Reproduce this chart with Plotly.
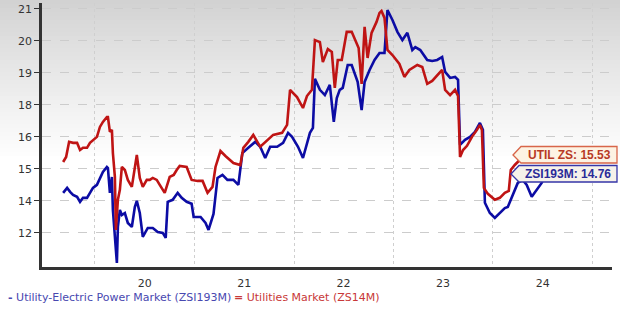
import datetime
import plotly.graph_objects as go

# ---- data (decimal years, index values) ----
UTIL_T = [2019.68, 2019.71, 2019.74, 2019.78, 2019.82, 2019.85, 2019.88, 2019.92, 2019.95, 2019.98,
          2020.02, 2020.05, 2020.08, 2020.12, 2020.13, 2020.15, 2020.17, 2020.18, 2020.20, 2020.21,
          2020.23, 2020.25, 2020.27, 2020.30, 2020.33, 2020.37, 2020.40, 2020.42, 2020.45, 2020.48,
          2020.52, 2020.55, 2020.58, 2020.62, 2020.65, 2020.70, 2020.75, 2020.79, 2020.82, 2020.85,
          2020.92, 2020.97, 2021.03, 2021.08, 2021.13, 2021.18, 2021.21, 2021.26, 2021.31, 2021.36,
          2021.39, 2021.46, 2021.49, 2021.54, 2021.59, 2021.66, 2021.73, 2021.79, 2021.88, 2021.93,
          2021.96, 2022.03, 2022.09, 2022.13, 2022.18, 2022.21, 2022.26, 2022.29, 2022.34, 2022.38,
          2022.41, 2022.44, 2022.48, 2022.53, 2022.58, 2022.62, 2022.65, 2022.68, 2022.71, 2022.74,
          2022.78, 2022.83, 2022.86, 2022.88, 2022.91, 2022.94, 2022.99, 2023.06, 2023.11, 2023.16,
          2023.24, 2023.29, 2023.34, 2023.39, 2023.44, 2023.49, 2023.52, 2023.57, 2023.62, 2023.65,
          2023.67, 2023.70, 2023.74, 2023.79, 2023.84, 2023.87, 2023.89, 2023.91, 2023.95, 2024.02,
          2024.07, 2024.12, 2024.16, 2024.18, 2024.22, 2024.27, 2024.34, 2024.42, 2024.52]
UTIL_V = [14.85, 15.05, 15.66, 15.62, 15.62, 15.33, 15.42, 15.42, 15.62, 15.74,
          15.86, 16.26, 16.46, 16.66, 16.66, 16.06, 16.14, 15.21, 14.25, 12.12,
          13.33, 13.73, 14.65, 14.53, 14.13, 13.85, 14.65, 15.13, 14.21, 13.85,
          14.13, 14.13, 14.21, 14.13, 13.93, 13.61, 14.25, 14.33, 14.53, 14.69,
          14.65, 14.13, 14.09, 14.09, 13.61, 13.85, 14.65, 15.29, 15.09, 14.93,
          14.81, 14.73, 15.42, 15.66, 15.94, 15.46, 15.74, 15.94, 16.02, 16.34,
          17.75, 17.46, 17.02, 17.50, 17.75, 19.75, 19.67, 18.87, 19.39, 19.27,
          17.83, 18.95, 18.95, 20.08, 20.08, 19.67, 19.43, 17.99, 20.28, 19.03,
          20.04, 20.48, 20.84, 20.92, 20.64, 19.35, 19.15, 18.79, 18.27, 18.55,
          18.75, 18.67, 17.99, 18.11, 18.31, 18.55, 17.75, 17.54, 17.75, 17.50,
          15.05, 15.33, 15.50, 15.86, 16.14, 16.34, 16.14, 13.81, 13.57, 13.33,
          13.41, 13.61, 13.69, 14.53, 14.73, 14.93, 15.01, 15.13, 15.21]

ZSI_T = [2019.68, 2019.72, 2019.75, 2019.78, 2019.82, 2019.85, 2019.88, 2019.92, 2019.95, 2019.98,
         2020.02, 2020.05, 2020.08, 2020.12, 2020.13, 2020.15, 2020.17, 2020.18, 2020.20, 2020.22,
         2020.23, 2020.25, 2020.27, 2020.30, 2020.33, 2020.37, 2020.40, 2020.42, 2020.45, 2020.48,
         2020.53, 2020.58, 2020.63, 2020.68, 2020.71, 2020.73, 2020.78, 2020.83, 2020.87, 2020.92,
         2020.97, 2020.99, 2021.06, 2021.11, 2021.14, 2021.19, 2021.23, 2021.28, 2021.33, 2021.39,
         2021.44, 2021.48, 2021.54, 2021.61, 2021.66, 2021.71, 2021.76, 2021.83, 2021.89, 2021.94,
         2021.98, 2022.04, 2022.09, 2022.13, 2022.16, 2022.19, 2022.21, 2022.26, 2022.31, 2022.36,
         2022.40, 2022.43, 2022.46, 2022.49, 2022.54, 2022.58, 2022.61, 2022.64, 2022.68, 2022.71,
         2022.76, 2022.81, 2022.86, 2022.91, 2022.94, 2022.99, 2023.04, 2023.09, 2023.14, 2023.19,
         2023.22, 2023.27, 2023.34, 2023.39, 2023.44, 2023.49, 2023.52, 2023.57, 2023.62, 2023.65,
         2023.67, 2023.72, 2023.77, 2023.82, 2023.87, 2023.90, 2023.92, 2023.97, 2024.02, 2024.07,
         2024.12, 2024.15, 2024.19, 2024.22, 2024.25, 2024.30, 2024.34, 2024.39, 2024.44, 2024.49,
         2024.52]
ZSI_V = [13.61, 13.81, 13.65, 13.53, 13.45, 13.25, 13.41, 13.41, 13.61, 13.81,
         13.93, 14.21, 14.45, 14.65, 14.61, 13.61, 14.25, 12.92, 11.84, 10.79,
         12.24, 12.92, 12.72, 12.80, 12.40, 12.24, 13.04, 13.29, 12.80, 11.84,
         12.20, 12.20, 12.04, 12.00, 11.80, 13.25, 13.33, 13.61, 13.41, 13.25,
         13.17, 12.64, 12.64, 12.40, 12.12, 12.76, 14.21, 14.33, 14.13, 14.13,
         13.93, 15.21, 15.42, 15.66, 15.46, 15.01, 15.46, 15.46, 15.62, 16.02,
         15.86, 15.46, 15.01, 15.62, 16.02, 16.22, 18.19, 17.75, 17.54, 17.95,
         16.46, 17.42, 17.75, 17.83, 18.75, 18.75, 18.43, 18.07, 16.94, 18.07,
         18.55, 18.95, 19.23, 19.23, 20.96, 20.56, 20.08, 19.75, 20.04, 19.35,
         19.47, 19.35, 18.95, 18.91, 18.95, 19.07, 18.47, 18.23, 18.27, 18.15,
         15.54, 15.74, 15.86, 16.06, 16.42, 16.14, 13.21, 12.80, 12.60, 12.80,
         13.00, 13.04, 13.41, 13.73, 14.01, 14.13, 13.93, 13.45, 13.73, 14.01,
         14.25]

Y_TICK_VALS = [12, 12 + 9 / 7, 12 + 18 / 7, 12 + 27 / 7, 12 + 36 / 7, 12 + 45 / 7, 12 + 54 / 7, 21]
Y_TICK_TEXT = ["12", "14", "15", "16", "18", "19", "20", "21"]
YEARS = [2020, 2021, 2022, 2023, 2024]
X_TICK_TEXT = ["20", "21", "22", "23", "24"]
UTIL_LABEL = "UTIL ZS: 15.53"
ZSI_LABEL = "ZSI193M: 14.76"
NAME_ZSI = "Utility-Electric Power Market (ZSI193M)"
NAME_UTIL = "Utilities Market (ZS14M)"


def to_date(d):
    y = int(d)
    start = datetime.datetime(y, 1, 1)
    days = (datetime.datetime(y + 1, 1, 1) - start).days
    return start + datetime.timedelta(days=(d - y) * days)


BLUE = "#0c0ca4"
RED = "#bf1414"

W, H = 620, 310
ML, MR, MT, MB = 42, 8, 3, 43
PW, PH = W - ML - MR, H - MT - MB


def px(x):
    return (x - ML) / PW


def py(y):
    return (H - MB - y) / PH


fig = go.Figure()
fig.add_trace(go.Scatter(x=[to_date(t) for t in ZSI_T], y=ZSI_V, mode="lines",
                         line=dict(color=BLUE, width=2.6), name=NAME_ZSI, showlegend=False))
fig.add_trace(go.Scatter(x=[to_date(t) for t in UTIL_T], y=UTIL_V, mode="lines",
                         line=dict(color=RED, width=2.6), name=NAME_UTIL, showlegend=False))

shapes = []
# background gradient at the top of the figure
n = 40
for i in range(n):
    y0 = i * 4
    c = int(210 + (255 - 210) * (i / (n - 1)) ** 0.9)
    shapes.append(dict(type="rect", xref="paper", yref="paper",
                       x0=px(0), x1=px(W), y0=py(y0 + 4), y1=py(y0) if i else py(-5),
                       fillcolor=f"rgb({c},{c},{c})", line=dict(width=0), layer="below"))


def callout(tipx, tipy, top, bot, right, border, fill):
    bx = tipx + 8
    path = (f"M {px(tipx)},{py(tipy)} L {px(bx)},{py(top)} L {px(right)},{py(top)} "
            f"L {px(right)},{py(bot)} L {px(bx)},{py(bot)} Z")
    return dict(type="path", xref="paper", yref="paper", path=path,
                fillcolor=fill, line=dict(color=border, width=1.3), layer="above")


shapes.append(callout(513, 155, 146.5, 163, 617, "#d8664a", "#fdf3e3"))
shapes.append(callout(511, 174, 165.5, 182, 617, "#3636a8", "#f6f2ea"))

annotations = [
    dict(xref="paper", yref="paper", x=px(526), y=py(155), xanchor="left", yanchor="middle",
         text=f"<b>{UTIL_LABEL}</b>", showarrow=False,
         font=dict(family="Liberation Sans, Arial", size=12, color="#b83a26")),
    dict(xref="paper", yref="paper", x=px(523), y=py(174), xanchor="left", yanchor="middle",
         text=f"<b>{ZSI_LABEL}</b>", showarrow=False,
         font=dict(family="Liberation Sans, Arial", size=12, color="#2a2a98")),
    dict(xref="paper", yref="paper", x=px(6), y=py(297), xanchor="left", yanchor="middle",
         text=f"<b>-</b> {NAME_ZSI}", showarrow=False,
         font=dict(family="DejaVu Sans", size=11, color="#4848b0")),
    dict(xref="paper", yref="paper", x=px(232), y=py(297), xanchor="left", yanchor="middle",
         text=f"<b>=</b> {NAME_UTIL}", showarrow=False,
         font=dict(family="DejaVu Sans", size=11, color="#c83838")),
]

x_lo = to_date(2020 + (ML - 95) / 99.5)
x_hi = to_date(2020 + (W - MR - 95) / 99.5)

fig.update_layout(
    width=W, height=H,
    margin=dict(l=ML, r=MR, t=MT, b=MB),
    paper_bgcolor="white", plot_bgcolor="rgba(0,0,0,0)",
    shapes=shapes, annotations=annotations, showlegend=False,
    xaxis=dict(range=[x_lo, x_hi], tickmode="array",
               tickvals=[datetime.datetime(y, 7, 2) for y in YEARS], ticktext=X_TICK_TEXT,
               showgrid=False, ticks="", ticklabelstandoff=4,
               tickfont=dict(family="DejaVu Sans", size=11, color="#333"),
               showline=True, linecolor="#333", linewidth=2.5, zeroline=False,
               minor=dict(tickvals=[datetime.datetime(y, 1, 1) for y in YEARS + [2025]],
                          showgrid=True, gridcolor="#cfcfcf", griddash="dot", gridwidth=1, ticks="")),
    yaxis=dict(range=[10.63, 21.24], tickmode="array", tickvals=Y_TICK_VALS, ticktext=Y_TICK_TEXT,
               showgrid=True, gridcolor="#cccccc", griddash="dash", gridwidth=1,
               ticks="outside", ticklen=5, tickcolor="#333", tickwidth=1,
               tickfont=dict(family="DejaVu Sans", size=11, color="#333"),
               showline=True, linecolor="#333", linewidth=2.5, zeroline=False),
)

fig.write_html("out.html")
